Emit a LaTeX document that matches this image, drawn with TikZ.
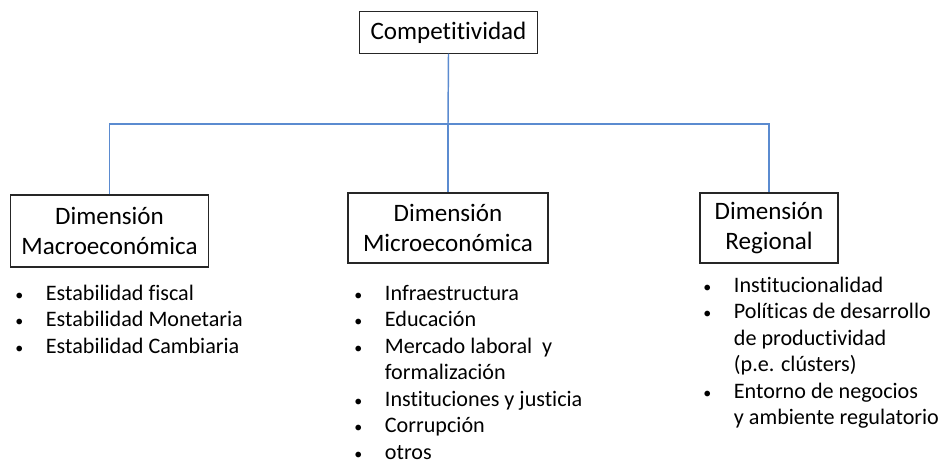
\documentclass[tikz,border=0pt]{standalone}
\usepackage{fontspec}
\setmainfont{Carlito}[RawFeature=-liga]
\usepackage{tikz}
\usetikzlibrary{positioning}
\definecolor{lnblue}{HTML}{5B8BD0}
\definecolor{bxgray}{HTML}{262626}
\newcommand{\bul}{{\fontsize{12}{12}\selectfont\textbullet}}

\begin{document}
\begin{tikzpicture}[x=0.75pt, y=-0.75pt,
  box/.style={draw=bxgray, line width=0.8pt, fill=white, align=center, inner sep=0pt,
              font=\fontsize{18.8}{22.5}\selectfont},
  list/.style={anchor=north west, inner sep=0pt, align=left,
               font=\fontsize{16.6}{19.9}\selectfont},
  link/.style={lnblue, line width=1.1pt}
]
\useasboundingbox (0,0) rectangle (946,464);
\node[box, minimum width=134pt, minimum height=31pt] (comp) at (448.5,32.5) {Competitividad};
\node[box, minimum width=149pt, minimum height=54pt] (macro) at (109.5,231) {Dimensión\\Macroeconómica};
\node[box, minimum width=150pt, minimum height=52.5pt] (micro) at (448,228) {Dimensión\\Microeconómica};
\node[box, minimum width=103.5pt, minimum height=52.5pt] (regional) at (769,228) {Dimensión\\Regional};
\coordinate (bar) at (448,124);
\draw[link] (comp.south) -- (bar);
\draw[link] (macro.north) |- (bar) -| (regional.north);
\draw[link] (bar) -- (micro.north);
% bullet lists under each dimension
\node[list] (macrolist) at (15,281.4) {\begin{tabular}{@{}p{23pt}@{}l@{}}
  \bul & Estabilidad fiscal\\
  \bul & Estabilidad Monetaria\\
  \bul & Estabilidad Cambiaria
\end{tabular}};
\node[list] (microlist) at (354,281.4) {\begin{tabular}{@{}p{23pt}@{}l@{}}
  \bul & Infraestructura\\
  \bul & Educación\\
  \bul & Mercado laboral \ y\\
       & formalización\\
  \bul & Instituciones y justicia\\
  \bul & Corrupción\\
  \bul & otros
\end{tabular}};
\node[list] (reglist) at (703,273.4) {\begin{tabular}{@{}p{23pt}@{}l@{}}
  \bul & Institucionalidad\\
  \bul & Políticas de desarrollo\\
       & de productividad\\
       & (p.e. clústers)\\
  \bul & Entorno de negocios\\
       & y ambiente regulatorio
\end{tabular}};
\end{tikzpicture}
\end{document}
